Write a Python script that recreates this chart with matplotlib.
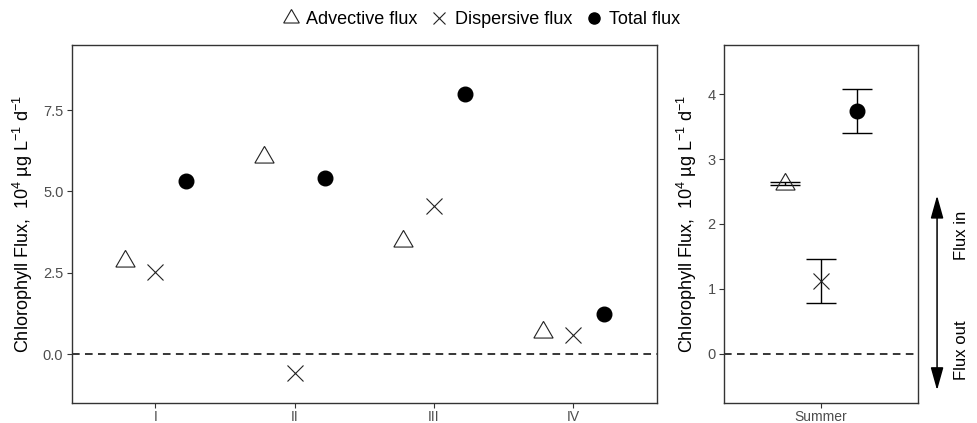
import matplotlib
matplotlib.use('Agg')
import matplotlib.pyplot as plt
from matplotlib.lines import Line2D

plt.rcParams['font.family'] = ['Liberation Sans', 'DejaVu Sans']
plt.rcParams['mathtext.fontset'] = 'custom'
plt.rcParams['mathtext.rm'] = 'Liberation Sans'
plt.rcParams['mathtext.it'] = 'Liberation Sans:italic'

# data
seasons = ['I', 'II', 'III', 'IV']
advective = [2.85, 6.05, 3.47, 0.68]
dispersive = [2.52, -0.58, 4.55, 0.58]
total = [5.32, 5.41, 7.99, 1.23]

summer_label = ['Summer']
summer_mean = [2.62, 1.12, 3.74]      # advective, dispersive, total
summer_err = [0.02, 0.34, 0.34]

ylabel = r'Chlorophyll Flux,  $10^4$ µg L$^{-1}$ d$^{-1}$'
tick_col = '#4D4D4D'
frame_col = '#333333'
tri = (3, 0, 0)   # equilateral triangle marker
dodge = 0.22

fig = plt.figure(figsize=(9.78, 4.23), dpi=100)
ax1 = fig.add_axes([0.0733, 0.0473, 0.5985, 0.8463])
ax2 = fig.add_axes([0.7403, 0.0473, 0.1984, 0.8463])

x = range(1, len(seasons) + 1)
ax1.plot([i - dodge for i in x], advective, ls='none', marker=tri, ms=16,
         mfc='white', mec='#222222', mew=0.8)
ax1.plot(list(x), dispersive, ls='none', marker='x', ms=12, mec='#222222', mew=0.8)
ax1.plot([i + dodge for i in x], total, ls='none', marker='o', ms=10.5,
         mfc='black', mec='black')
ax1.axhline(0, color='black', ls=(0, (5, 3.5)), lw=1.1)
ax1.set_xlim(0.4, len(seasons) + 0.6)
ax1.set_ylim(-1.506, 9.5)
ax1.set_xticks(list(x))
ax1.set_xticklabels(seasons)
ax1.set_yticks([0, 2.5, 5.0, 7.5])
ax1.set_yticklabels(['0.0', '2.5', '5.0', '7.5'])
ax1.set_ylabel(ylabel, fontsize=13, labelpad=6)

# summer panel with error bars
sx = [1 - dodge, 1, 1 + dodge]
ax2.errorbar(sx, summer_mean, yerr=summer_err, fmt='none', ecolor='black',
             elinewidth=1.0, capsize=10.5, capthick=1.0)
ax2.plot(sx[0], summer_mean[0], ls='none', marker=tri, ms=16,
         mfc='none', mec='#222222', mew=0.8)
ax2.plot(sx[1], summer_mean[1], ls='none', marker='x', ms=12, mec='#222222', mew=0.8)
ax2.plot(sx[2], summer_mean[2], ls='none', marker='o', ms=10.5,
         mfc='black', mec='black')
ax2.axhline(0, color='black', ls=(0, (5, 3.5)), lw=1.1)
ax2.set_xlim(0.4, 1.6)
ax2.set_ylim(-0.754, 4.754)
ax2.set_xticks([1])
ax2.set_xticklabels(summer_label)
ax2.set_yticks([0, 1, 2, 3, 4])
ax2.set_ylabel(ylabel, fontsize=13, labelpad=6)

for ax in (ax1, ax2):
    for s in ax.spines.values():
        s.set_color(frame_col)
        s.set_linewidth(1.0)
    ax.tick_params(direction='out', length=3.5, width=0.8, color=frame_col,
                   labelcolor=tick_col, labelsize=10.5, pad=2.5)
    ax.tick_params(axis='x', pad=1.2)
ax1.tick_params(axis='x', labelsize=10)
ax2.tick_params(axis='x', labelsize=10)

# flux direction arrow
ax2.annotate('', xy=(1.098, 2.48), xytext=(1.098, -0.6),
             xycoords=('axes fraction', 'data'), textcoords=('axes fraction', 'data'),
             arrowprops=dict(arrowstyle='<|-|>,head_length=1.0,head_width=0.28',
                             color='black', lw=1.1, mutation_scale=14),
             annotation_clip=False)
ax2.text(1.225, 1.83, 'Flux in', rotation=90, ha='center', va='center',
         fontsize=12, transform=ax2.get_yaxis_transform(), clip_on=False)
ax2.text(1.225, 0.06, 'Flux out', rotation=90, ha='center', va='center',
         fontsize=12, transform=ax2.get_yaxis_transform(), clip_on=False)

handles = [
    Line2D([], [], ls='none', marker=tri, ms=13, mfc='white', mec='#222222', mew=0.8),
    Line2D([], [], ls='none', marker='x', ms=8.5, mec='#222222', mew=0.8),
    Line2D([], [], ls='none', marker='o', ms=8, mfc='black', mec='black'),
]
fig.legend(handles, ['Advective flux', 'Dispersive flux', 'Total flux'],
           loc='center', bbox_to_anchor=(0.492, 0.953), ncol=3, frameon=False,
           fontsize=13, handlelength=1.0, handletextpad=0.35, columnspacing=0.7)

plt.savefig('out.png', dpi=100)
